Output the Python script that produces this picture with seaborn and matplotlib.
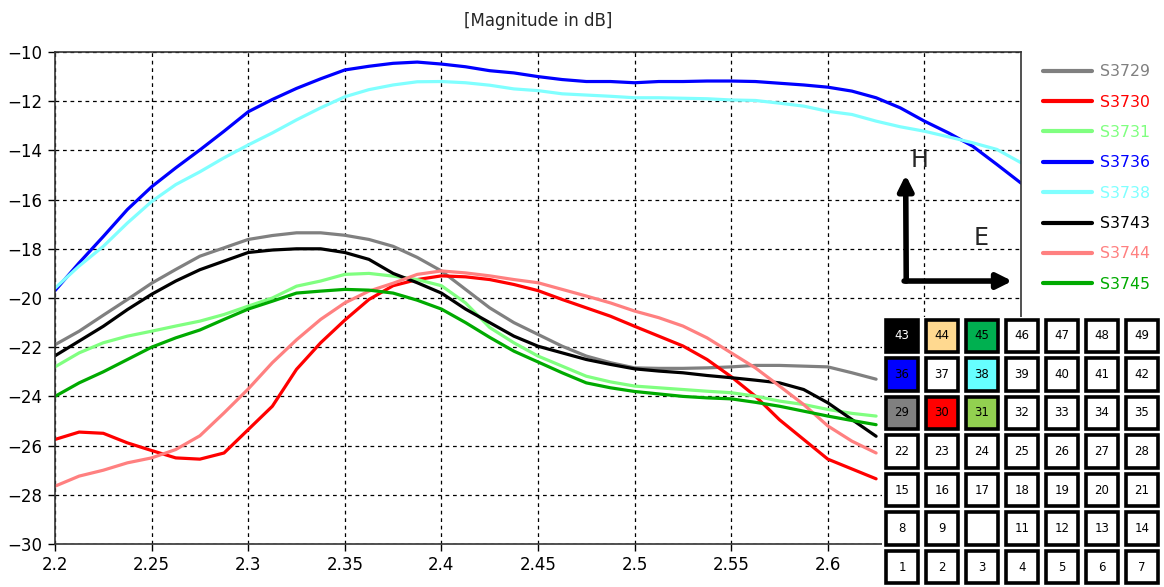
import numpy as np
import pandas as pd
import matplotlib.pyplot as plt
import seaborn as sns
from matplotlib.patches import Rectangle

# frequency axis (GHz); the lower curves disappear under the port map at ~2.625
freq = [2.2, 2.2125, 2.225, 2.2375, 2.25, 2.2625, 2.275, 2.2875, 2.3, 2.3125,
        2.325, 2.3375, 2.35, 2.3625, 2.375, 2.3875, 2.4, 2.4125, 2.425, 2.4375,
        2.45, 2.4625, 2.475, 2.4875, 2.5, 2.5125, 2.525, 2.5375, 2.55, 2.5625,
        2.575, 2.5875, 2.6, 2.6125, 2.625]
# the two top curves run to the right edge
freq_long = freq + [2.6375, 2.65, 2.6625, 2.675, 2.6875, 2.7]

s3729 = [-21.9, -21.35, -20.7, -20.06, -19.4, -18.84, -18.3, -17.96, -17.62, -17.46,
         -17.35, -17.35, -17.45, -17.62, -17.9, -18.35, -18.9, -19.65, -20.4, -21.0,
         -21.48, -21.96, -22.36, -22.63, -22.84, -22.86, -22.86, -22.84, -22.8, -22.74,
         -22.74, -22.77, -22.8, -23.04, -23.3]
s3730 = [-25.75, -25.45, -25.5, -25.89, -26.2, -26.5, -26.55, -26.3, -25.35, -24.4,
         -22.9, -21.82, -20.9, -20.06, -19.5, -19.25, -19.1, -19.14, -19.25, -19.45,
         -19.7, -20.06, -20.4, -20.74, -21.15, -21.55, -21.95, -22.5, -23.2, -23.99,
         -24.95, -25.75, -26.55, -26.95, -27.35]
s3731 = [-22.8, -22.23, -21.82, -21.55, -21.35, -21.14, -20.94, -20.67, -20.33, -20.0,
         -19.52, -19.31, -19.04, -19.0, -19.11, -19.25, -19.5, -20.2, -21.2, -21.82,
         -22.36, -22.77, -23.18, -23.41, -23.58, -23.65, -23.72, -23.79, -23.85, -23.99,
         -24.19, -24.33, -24.53, -24.69, -24.8]
s3736 = [-19.7, -18.57, -17.5, -16.4, -15.48, -14.71, -13.98, -13.22, -12.43, -11.93,
         -11.48, -11.09, -10.73, -10.58, -10.46, -10.41, -10.49, -10.6, -10.76, -10.85,
         -11.0, -11.12, -11.2, -11.2, -11.25, -11.2, -11.2, -11.18, -11.18, -11.2,
         -11.27, -11.34, -11.43, -11.59, -11.86, -12.27, -12.81, -13.29, -13.83, -14.57,
         -15.33]
s3738 = [-19.6, -18.7, -17.9, -16.95, -16.08, -15.39, -14.87, -14.3, -13.78, -13.29,
         -12.76, -12.27, -11.82, -11.53, -11.34, -11.21, -11.2, -11.25, -11.35, -11.5,
         -11.57, -11.7, -11.75, -11.8, -11.86, -11.86, -11.88, -11.9, -11.95, -11.97,
         -12.08, -12.2, -12.41, -12.54, -12.81, -13.04, -13.22, -13.45, -13.69, -13.96,
         -14.5]
s3743 = [-22.35, -21.75, -21.15, -20.47, -19.85, -19.31, -18.85, -18.5, -18.15, -18.05,
         -18.0, -18.0, -18.15, -18.43, -19.0, -19.38, -19.8, -20.45, -21.0, -21.55,
         -21.96, -22.23, -22.5, -22.7, -22.88, -22.97, -23.04, -23.15, -23.24, -23.34,
         -23.45, -23.72, -24.26, -24.94, -25.62]
s3744 = [-27.65, -27.24, -27.0, -26.7, -26.5, -26.16, -25.6, -24.67, -23.7, -22.63,
         -21.7, -20.87, -20.2, -19.72, -19.4, -19.04, -18.9, -18.98, -19.1, -19.25,
         -19.38, -19.65, -19.92, -20.2, -20.53, -20.8, -21.14, -21.62, -22.23, -22.84,
         -23.58, -24.33, -25.2, -25.82, -26.3]
s3745 = [-24.0, -23.45, -23.0, -22.5, -22.0, -21.62, -21.3, -20.87, -20.45, -20.13,
         -19.8, -19.72, -19.65, -19.68, -19.8, -20.09, -20.45, -21.0, -21.6, -22.16,
         -22.6, -23.04, -23.45, -23.65, -23.8, -23.9, -24.0, -24.06, -24.1, -24.24,
         -24.4, -24.6, -24.8, -24.98, -25.15]

labels = ["S3729", "S3730", "S3731", "S3736", "S3738", "S3743", "S3744", "S3745"]
colors = ["#808080", "#ff0000", "#80ff80", "#0000ff", "#80ffff", "#000000", "#ff8080", "#00aa00"]

# port map (7x7), numbers and fill colours
port_rows = [[43, 44, 45, 46, 47, 48, 49],
             [36, 37, 38, 39, 40, 41, 42],
             [29, 30, 31, 32, 33, 34, 35],
             [22, 23, 24, 25, 26, 27, 28],
             [15, 16, 17, 18, 19, 20, 21],
             [8, 9, 10, 11, 12, 13, 14],
             [1, 2, 3, 4, 5, 6, 7]]
port_fill = {43: "#000000", 44: "#ffd990", 45: "#00b050", 36: "#0000ff",
             38: "#66ffff", 29: "#808080", 30: "#ff0000", 31: "#92d050"}
hidden_ports = [10]

series = [s3729, s3730, s3731, s3736, s3738, s3743, s3744, s3745]
frames = []
for lab, vals in zip(labels, series):
    xs = freq_long if len(vals) == len(freq_long) else freq
    frames.append(pd.DataFrame({"freq": xs, "mag": vals, "port": lab}))
df = pd.concat(frames, ignore_index=True)

sns.set_style("white")
plt.rcParams["font.family"] = ["DejaVu Sans"]

fig = plt.figure(figsize=(11.64, 5.87), dpi=100)
ax = fig.add_axes([55 / 1164, 43 / 587, 966 / 1164, 492 / 587])

sns.lineplot(data=df, x="freq", y="mag", hue="port", hue_order=labels,
             palette=dict(zip(labels, colors)), linewidth=2.3, sort=False,
             estimator=None, ax=ax)

ax.set_xlim(2.2, 2.7)
ax.set_ylim(-30, -10)
ax.set_xticks([2.2, 2.25, 2.3, 2.35, 2.4, 2.45, 2.5, 2.55, 2.6, 2.65])
ax.set_xticklabels(["2.2", "2.25", "2.3", "2.35", "2.4", "2.45", "2.5", "2.55", "2.6", ""])
ax.set_yticks(np.arange(-30, -9, 2))
ax.tick_params(direction="out", length=5, width=1, labelsize=12, colors="black", pad=4,
               left=True, bottom=True)
ax.grid(True, color="black", linestyle=(0, (3, 3)), linewidth=0.9)
ax.set_xlabel("")
ax.set_ylabel("")
for sp in ax.spines.values():
    sp.set_color("#333333")
    sp.set_linewidth(1.2)
ax.set_title("[Magnitude in dB]", fontsize=12, pad=19)

leg = ax.legend(loc="upper left", bbox_to_anchor=(1.0086, 1.004), frameon=False,
                fontsize=11.3, handlelength=3.1, labelspacing=0.98, handletextpad=0.5)
for txt, col in zip(leg.get_texts(), colors):
    txt.set_color(col)
for ln in leg.get_lines():
    ln.set_linewidth(3)

# E / H orientation arrows
corner = (2.6406, -19.31)
ax.annotate("", xy=(2.6403, -15.0), xytext=corner,
            arrowprops=dict(arrowstyle="-|>,head_length=0.9,head_width=0.45",
                            color="black", lw=4, shrinkA=0, shrinkB=0))
ax.annotate("", xy=(2.6955, -19.31), xytext=(2.6395, -19.31),
            arrowprops=dict(arrowstyle="-|>,head_length=0.9,head_width=0.45",
                            color="black", lw=4, shrinkA=0, shrinkB=0))
ax.text(2.6475, -14.4, "H", fontsize=17, ha="center", va="center")
ax.text(2.6795, -17.55, "E", fontsize=17, ha="center", va="center")

# port map inset
ins = fig.add_axes([882 / 1164, 0.5 / 587, 280 / 1164, 270 / 587])
ins.set_facecolor("white")
ins.set_xlim(0, 7)
ins.set_ylim(0, 7)
ins.axis("off")
ins.add_patch(Rectangle((0, 0), 7, 7, facecolor="white", edgecolor="none", zorder=0))
for r, row in enumerate(port_rows):
    for c, num in enumerate(row):
        y0 = 6 - r
        fill = port_fill.get(num, "white")
        ins.add_patch(Rectangle((c + 0.09, y0 + 0.08), 0.82, 0.84, facecolor=fill,
                                edgecolor="black", linewidth=2.6, zorder=2))
        if num in hidden_ports:
            continue
        tcol = "white" if num == 43 else "black"
        ins.text(c + 0.5, y0 + 0.5, str(num), ha="center", va="center",
                 fontsize=8.5, color=tcol, zorder=3)

fig.savefig("out.png", dpi=100)
